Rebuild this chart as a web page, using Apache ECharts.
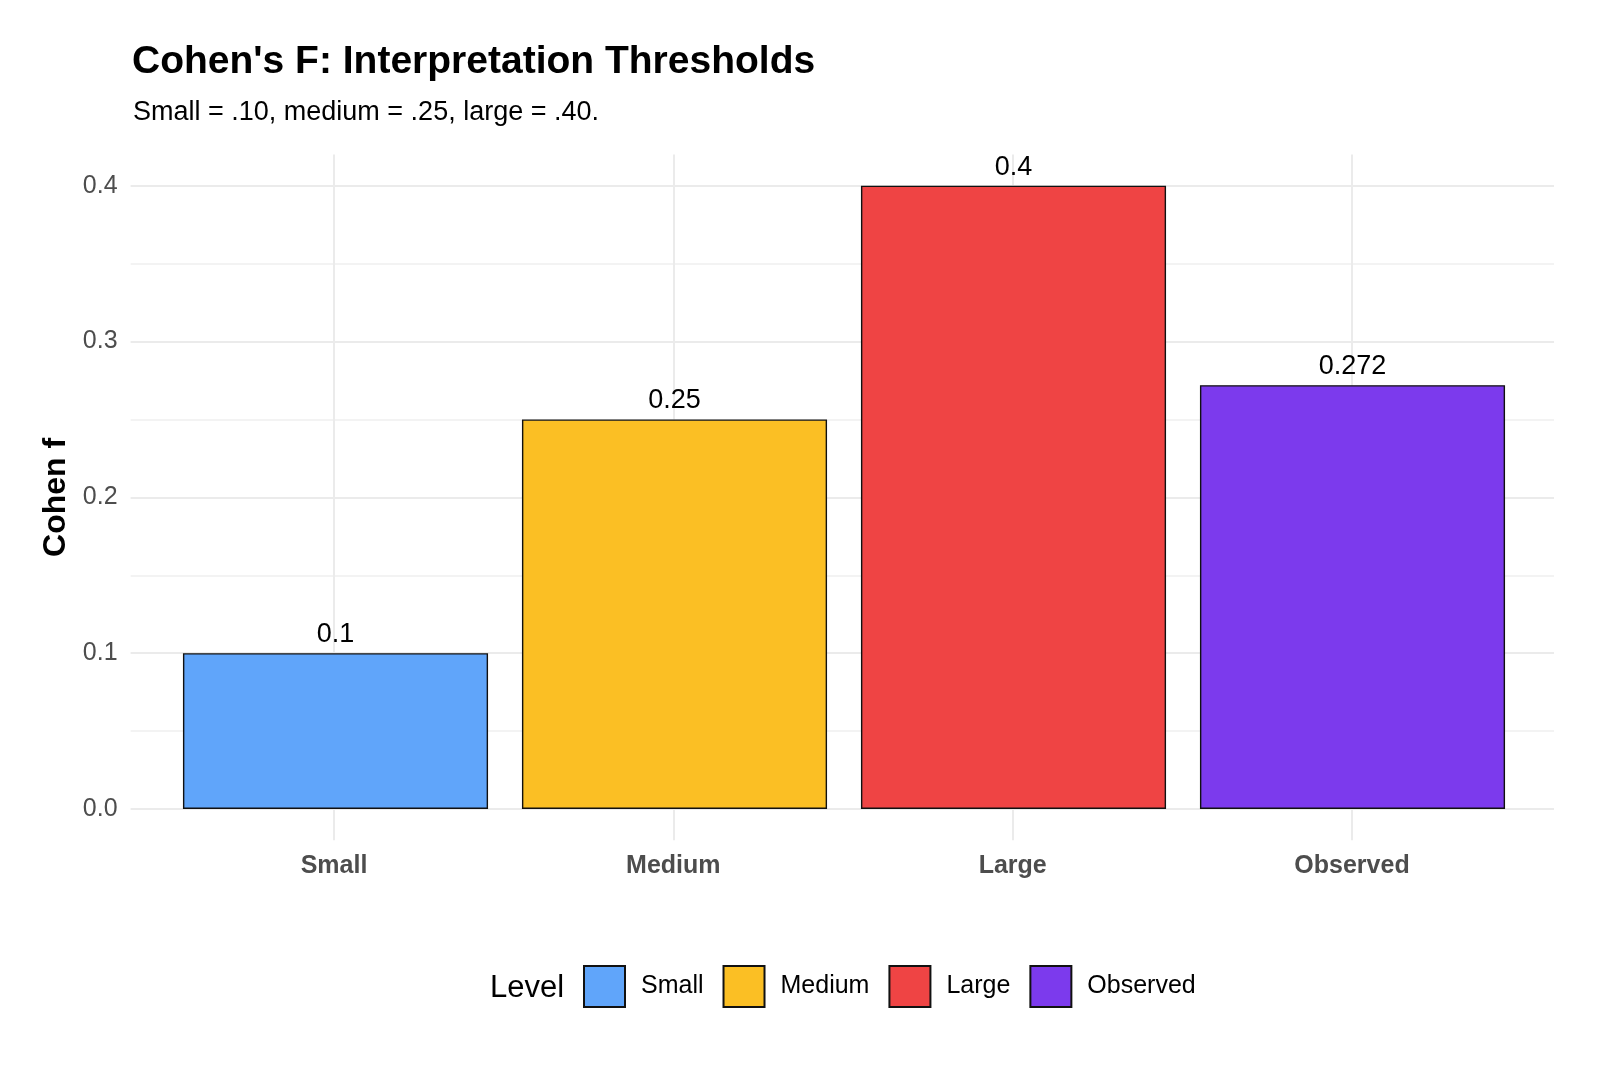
<!DOCTYPE html>
<html>
<head>
<meta charset="utf-8">
<script src="https://cdn.jsdelivr.net/npm/echarts@6/dist/echarts.min.js"></script>
<style>html,body{margin:0;padding:0;background:#fff}#c{width:1600px;height:1067px}</style>
</head>
<body>
<div id="c"></div>
<script>
const categories = ['Small', 'Medium', 'Large', 'Observed'];
const values = [0.1, 0.25, 0.4, 0.272];
const barLabels = ['0.1', '0.25', '0.4', '0.272'];
const colors = ['#60A5FA', '#FBBF24', '#EF4444', '#7C3AED'];
const yTicks = [0, 0.1, 0.2, 0.3, 0.4];

const FONT = '"Liberation Sans", Arial, Helvetica, sans-serif';
const chart = echarts.init(document.getElementById('c'), null, {renderer: 'canvas'});

const series = categories.map((c, i) => ({
  name: c,
  type: 'bar',
  xAxisIndex: 2,
  yAxisIndex: 2,
  barGap: '-100%',
  barWidth: '90%',
  data: values.map((v, j) => (j === i ? v : '-')),
  itemStyle: {color: colors[i], borderColor: '#111', borderWidth: 1.4},
  label: {
    show: true, position: 'top', distance: 5,
    formatter: () => barLabels[i],
    fontFamily: FONT, fontSize: 27, color: '#000'
  },
  emphasis: {disabled: true}
}));

const option = {
  backgroundColor: '#fff',
  animation: false,
  textStyle: {fontFamily: FONT},
  title: [
    {text: "Cohen's F: Interpretation Thresholds", left: 127, top: 38,
     textStyle: {fontFamily: FONT, fontSize: 39, fontWeight: 'bold', color: '#000'}},
    {text: 'Small = .10, medium = .25, large = .40.', left: 128, top: 94,
     textStyle: {fontFamily: FONT, fontSize: 27, fontWeight: 'normal', color: '#000'}}
  ],
  legend: {
    data: categories,
    left: 578, top: 960,
    orient: 'horizontal',
    icon: 'rect',
    itemWidth: 41, itemHeight: 41, itemGap: 19,
    textStyle: {fontFamily: FONT, fontSize: 25, color: '#000', padding: [0, 0, 0, 11]},
    selectedMode: false
  },
  graphic: [
    {type: 'text', left: 490, top: 973,
     style: {text: 'Level', fontFamily: FONT, fontSize: 31, fill: '#000'}}
  ],
  grid: [
    {left: 334, right: 248, top: 154.6, bottom: 226.7},
    {left: 130.6, right: 46, top: 185.7, bottom: 258},
    {left: 166, right: 78, top: 185.7, bottom: 258}
  ],
  xAxis: [
    {type: 'category', gridIndex: 0, data: categories, boundaryGap: false,
     axisLine: {show: false}, axisTick: {show: false},
     splitLine: {show: true, lineStyle: {color: '#ebebeb', width: 2}},
     axisLabel: {fontFamily: FONT, fontSize: 25, fontWeight: 'bold', color: '#4d4d4d', margin: 13}},
    {type: 'value', gridIndex: 1, show: false, min: 0, max: 1},
    {type: 'category', gridIndex: 2, data: categories, show: false}
  ],
  yAxis: [
    {type: 'value', gridIndex: 0, show: false, min: 0, max: 1},
    {type: 'value', gridIndex: 1, min: 0, max: 0.4, interval: 0.1,
     name: 'Cohen f', nameLocation: 'middle', nameGap: 58, nameRotate: 90,
     nameTextStyle: {fontFamily: FONT, fontSize: 32, fontWeight: 'bold', color: '#000'},
     axisLine: {show: false}, axisTick: {show: false},
     axisLabel: {fontFamily: FONT, fontSize: 25, color: '#4d4d4d', margin: 13,
                 formatter: v => v.toFixed(1)},
     splitLine: {show: true, lineStyle: {color: '#ebebeb', width: 2}},
     minorTick: {show: false, splitNumber: 2},
     minorSplitLine: {show: true, lineStyle: {color: '#f0f0f0', width: 1.5}}},
    {type: 'value', gridIndex: 2, min: 0, max: 0.4, show: false}
  ],
  series: series
};
chart.setOption(option);
</script>
</body>
</html>
